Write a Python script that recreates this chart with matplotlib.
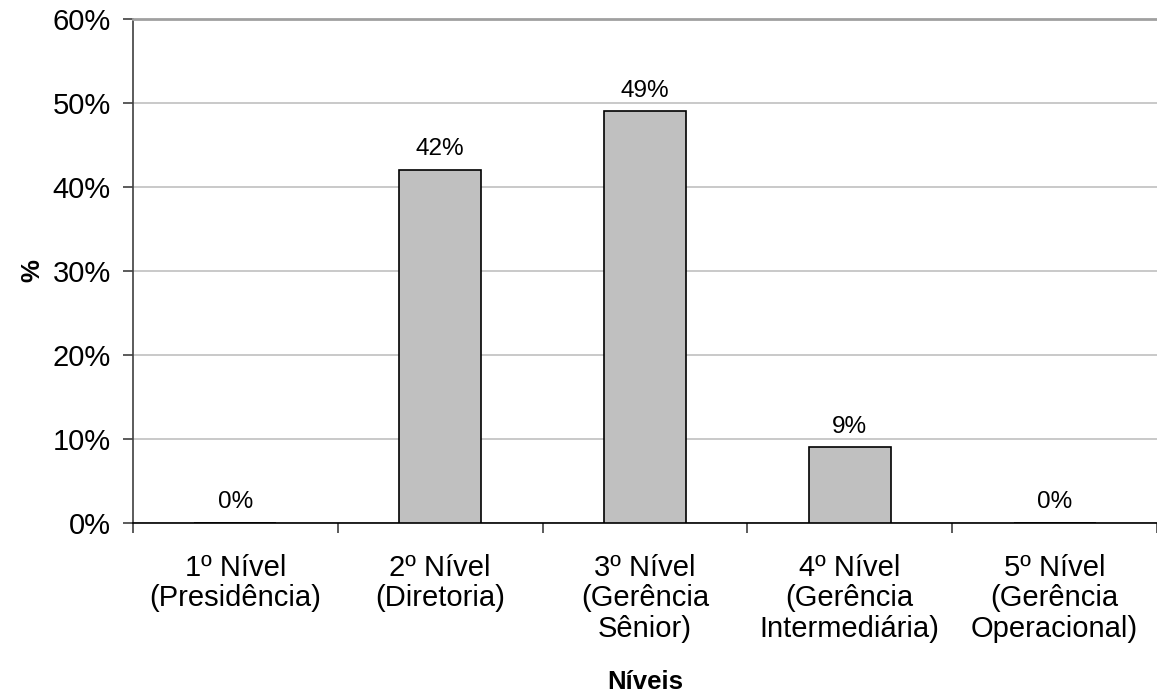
import matplotlib.pyplot as plt
import numpy as np

plt.rcParams['font.family'] = ['Liberation Sans', 'DejaVu Sans']

# Distribuição por nível hierárquico
niveis = ["1º Nível\n(Presidência)", "2º Nível\n(Diretoria)", "3º Nível\n(Gerência\nSênior)",
          "4º Nível\n(Gerência\nIntermediária)", "5º Nível\n(Gerência\nOperacional)"]
percentuais = [0, 42, 49, 9, 0]

fig = plt.figure(figsize=(11.57, 6.94), dpi=100)
ax = fig.add_axes([133 / 1157, (694 - 523) / 694, 1024 / 1157, 504 / 694])

x = np.arange(len(niveis))
ax.bar(x, percentuais, width=0.4, color="#c0c0c0", edgecolor="black", linewidth=1.2, zorder=3)

for xi, v in zip(x, percentuais):
    ax.annotate(f"{v}%", (xi, v), xytext=(0, 7), textcoords="offset points",
                ha="center", va="bottom", fontsize=17.5)

ax.set_xlim(-0.5, len(niveis) - 0.5)
ax.set_ylim(0, 60)
ax.set_yticks(range(0, 61, 10))
ax.set_yticklabels([f"{t}%" for t in range(0, 61, 10)], fontsize=21)
ax.yaxis.grid(True, color="#c0c0c0", linewidth=1.2, zorder=0)

# rótulos das categorias sem marcas; marcas nas divisões
ax.set_xticks(x)
ax.set_xticklabels(niveis, fontsize=21)
ax.tick_params(axis="x", length=0, pad=22)
ax.set_xticks(np.arange(-0.5, len(niveis)), minor=True)
ax.tick_params(axis="x", which="minor", length=7, width=1.2, color="#404040")
ax.tick_params(axis="y", length=7, width=1.2, color="#404040", pad=9)

for lab in ax.get_xticklabels():
    lab.set_linespacing(1.13)

ax.spines["right"].set_visible(False)
ax.spines["top"].set_color("#a0a0a0")
ax.spines["top"].set_linewidth(2)
ax.spines["left"].set_color("#404040")
ax.spines["left"].set_linewidth(1.2)
ax.spines["bottom"].set_color("black")
ax.spines["bottom"].set_linewidth(1.2)

ax.set_ylabel("%", fontsize=18.5, fontweight="bold", labelpad=6)
ax.set_xlabel("Níveis", fontsize=18.5, fontweight="bold", labelpad=19)

fig.savefig("out.png", dpi=100)
